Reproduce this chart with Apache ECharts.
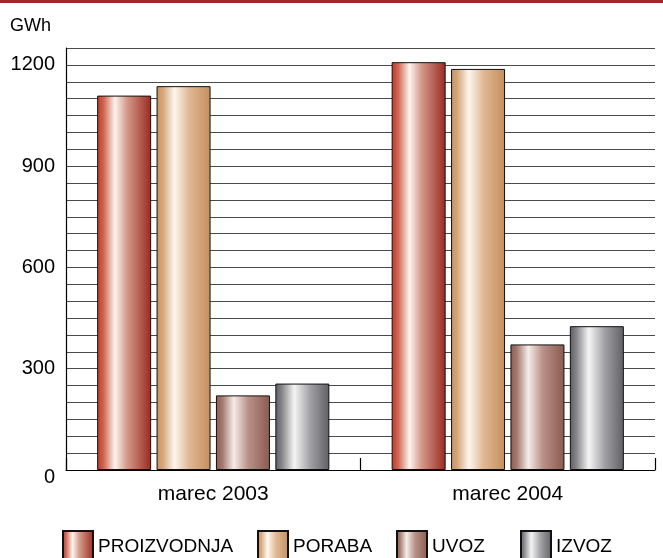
<!DOCTYPE html>
<html><head><meta charset="utf-8">
<script src="https://cdn.jsdelivr.net/npm/echarts@6/dist/echarts.min.js"></script>
<style>html,body{margin:0;padding:0;background:#fff}#c{width:663px;height:558px}</style>
</head><body><div id="c"></div>
<script>
const categories = ['marec 2003', 'marec 2004'];
const seriesNames = ['PROIZVODNJA', 'PORABA', 'UVOZ', 'IZVOZ'];
const proizvodnja = [1109, 1208];
const poraba = [1137, 1188];
const uvoz = [221, 372];
const izvoz = [256, 426];
const yTickLabels = [0, 300, 600, 900, 1200];
const unitLabel = 'GWh';

const G = echarts.graphic.LinearGradient;
const grads = [
  new G(0,0,1,0,[{offset:0,color:'#bb3a2a'},{offset:0.12,color:'#cf6652'},{offset:0.33,color:'#fdf3ee'},{offset:0.55,color:'#d39a8a'},{offset:1,color:'#9a2a20'}]),
  new G(0,0,1,0,[{offset:0,color:'#c8905e'},{offset:0.12,color:'#d6a77c'},{offset:0.33,color:'#fdf6ee'},{offset:0.6,color:'#e0b895'},{offset:1,color:'#c48e5c'}]),
  new G(0,0,1,0,[{offset:0,color:'#8c5c50'},{offset:0.12,color:'#a47a70'},{offset:0.33,color:'#f5ece8'},{offset:0.6,color:'#b89088'},{offset:1,color:'#8a5a4e'}]),
  new G(0,0,1,0,[{offset:0,color:'#5e5e62'},{offset:0.12,color:'#86868a'},{offset:0.35,color:'#f4f4f4'},{offset:0.65,color:'#a0a0a4'},{offset:1,color:'#606064'}])
];
const data = [proizvodnja, poraba, uvoz, izvoz];
const font = 'Liberation Sans, Arial, sans-serif';
const legendLefts = [62, 257, 396, 520];

const chart = echarts.init(document.getElementById('c'), null, {renderer:'canvas'});
chart.setOption({
  animation:false,
  textStyle:{fontFamily:font},
  title:{text:unitLabel,left:5,top:12,textStyle:{fontSize:18,fontWeight:'normal',color:'#000',fontFamily:font}},
  graphic:[{type:'rect',left:0,top:0,shape:{width:663,height:3},style:{fill:'#a3262a'}}],
  grid:{left:66,right:8,top:48,bottom:88},
  xAxis:{type:'category',data:categories,
    axisLine:{lineStyle:{color:'#000',width:1.2}},
    axisTick:{show:true,inside:true,length:12,lineStyle:{color:'#000',width:1.2}},
    axisLabel:{fontSize:21,color:'#000',margin:14,fontFamily:font}},
  yAxis:{type:'value',min:0,max:1250,interval:50,
    axisLine:{show:true,lineStyle:{color:'#000',width:1.2}},
    axisTick:{show:false},
    splitLine:{show:true,lineStyle:{color:'#4a4a4a',width:1.2}},
    axisLabel:{fontSize:20,color:'#000',margin:11,fontFamily:font,
      formatter:v=>v===0?'{z|0}':(yTickLabels.indexOf(v)>=0?String(v):''),
      rich:{z:{fontSize:20,color:'#000',fontFamily:font,padding:[14,0,0,0]}}}},
  legend: seriesNames.map((n,i)=>({data:[{name:n,icon:'rect'}],left:legendLefts[i],top:530,itemWidth:30,itemHeight:32,itemGap:0,
    textStyle:{fontSize:19,color:'#000',fontFamily:font,padding:[6,0,0,0]},padding:0,selectedMode:false})),
  series: seriesNames.map((n,i)=>({name:n,type:'bar',data:data[i],barWidth:54,barGap:'10%',
    itemStyle:{color:grads[i],borderColor:'#111',borderWidth:1}}))
});
</script></body></html>
